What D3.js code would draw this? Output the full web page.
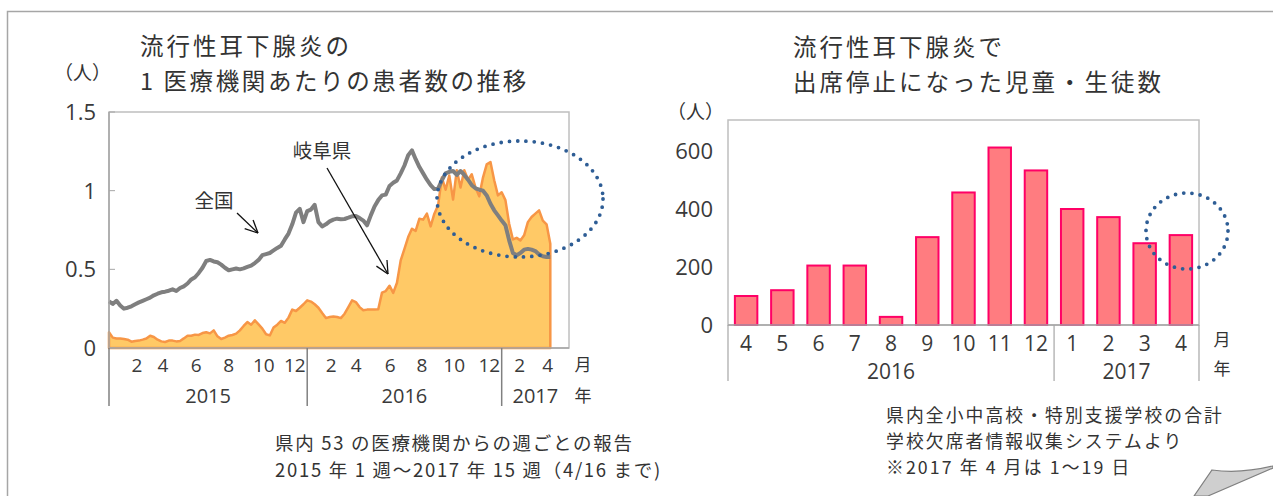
<!DOCTYPE html>
<html><head><meta charset="utf-8">
<script src="https://cdn.jsdelivr.net/npm/d3@7"></script>
<style>
html,body{margin:0;padding:0;background:#fff;}
svg{display:block;}
text{font-family:"Noto Sans CJK JP","Noto Sans",sans-serif;fill:#333;}
text.num{font-family:"Open Sans","Noto Sans",sans-serif;fill:#3a3a3a;}
</style></head>
<body>
<svg id="c" width="1273" height="496"></svg>
<script>
// ---------- DATA ----------
// Left chart: weekly values, 2015 week 1 .. 2017 week 15
const nationalValues = [
0.297,0.28,0.30,0.27,0.25,0.256,0.265,0.278,0.29,0.30,
0.31,0.32,0.335,0.345,0.354,0.358,0.364,0.373,0.362,0.381,
0.392,0.41,0.436,0.45,0.477,0.51,0.553,0.56,0.55,0.545,
0.53,0.51,0.494,0.50,0.505,0.50,0.506,0.515,0.523,0.54,
0.56,0.59,0.597,0.604,0.62,0.636,0.65,0.69,0.727,0.786,
0.86,0.885,0.80,0.87,0.88,0.91,0.80,0.773,0.786,0.805,
0.816,0.822,0.818,0.82,0.828,0.837,0.839,0.826,0.81,0.78,
0.843,0.90,0.94,0.97,0.975,1.03,1.05,1.065,1.11,1.16,
1.225,1.256,1.20,1.15,1.11,1.07,1.035,1.01,1.013,1.066,
1.11,1.12,1.125,1.10,1.125,1.10,1.07,1.035,1.015,1.006,
1.0,0.97,0.917,0.875,0.843,0.81,0.78,0.684,0.604,0.59,
0.604,0.625,0.63,0.625,0.616,0.595,0.583,0.578,0.578
];
const gifuValues = [
0.10,0.066,0.06,0.06,0.057,0.053,0.04,0.045,0.047,0.053,
0.06,0.078,0.07,0.053,0.042,0.038,0.047,0.047,0.042,0.045,
0.061,0.078,0.078,0.085,0.083,0.095,0.10,0.093,0.112,0.074,
0.057,0.066,0.078,0.083,0.091,0.112,0.14,0.165,0.148,0.176,
0.15,0.123,0.087,0.08,0.13,0.148,0.172,0.16,0.193,0.244,
0.235,0.256,0.278,0.303,0.295,0.278,0.256,0.222,0.19,0.197,
0.20,0.197,0.19,0.218,0.26,0.303,0.292,0.26,0.24,0.244,
0.244,0.244,0.246,0.352,0.362,0.396,0.35,0.415,0.557,0.63,
0.705,0.758,0.744,0.822,0.816,0.854,0.773,0.854,0.907,1.083,
1.006,1.097,0.943,1.13,1.02,1.13,1.07,1.104,1.02,0.964,
1.083,1.167,1.182,1.066,0.97,0.99,0.94,0.79,0.69,0.70,
0.684,0.716,0.80,0.833,0.854,0.875,0.81,0.786,0.663
];
const leftYTicks = [0, 0.5, 1, 1.5];
const leftYTickLabels = ["0", "0.5", "1", "1.5"];
const monthTickLabels = ["2","4","6","8","10","12","2","4","6","8","10","12","2","4"];
const monthTickWeeks = [7.5,14.4,23.3,32,41.4,49.7,59.4,66.1,75.2,83.7,92.3,101.7,109.8,117.3];
const yearLabels = ["2015","2016","2017"];
const yearStartWeeks = [0, 53, 105];

// Right chart: monthly students
const barMonths = ["4","5","6","7","8","9","10","11","12","1","2","3","4"];
const barValues = [100,120,205,205,28,303,457,612,533,400,372,282,310];
const barYears = ["2016","2017"];
const barYearStarts = [0, 9];
const rightYTicks = [0, 200, 400, 600];

// ---------- DRAW ----------
const svg = d3.select("#c");

svg.append("path").attr("d","M7.5,496 L7.5,11.5 L1273,11.5")
  .attr("fill","none").attr("stroke","#a6a6a6").attr("stroke-width",1.5);

// ===== LEFT CHART =====
const L = {x0:109, x1:569, y0:348, y1:112};
const xL = d3.scaleLinear().domain([0,123]).range([L.x0, L.x1]);
const yL = d3.scaleLinear().domain([0,1.5]).range([L.y0, L.y1]);

svg.append("rect").attr("x",L.x0).attr("y",L.y1).attr("width",L.x1-L.x0).attr("height",L.y0-L.y1)
  .attr("fill","none").attr("stroke","#bfbfbf").attr("stroke-width",1.5);

const area = d3.area().x((d,i)=>xL(i)).y0(yL(0)).y1(d=>yL(d));
svg.append("path").datum(gifuValues).attr("d",area)
  .attr("fill","#ffc966").attr("stroke","#f79646").attr("stroke-width",2.5).attr("stroke-linejoin","round");

const line = d3.line().x((d,i)=>xL(i)).y(d=>yL(d));
svg.append("path").datum(nationalValues).attr("d",line)
  .attr("fill","none").attr("stroke","#7f7f7f").attr("stroke-width",4).attr("stroke-linejoin","round");

svg.append("line").attr("x1",L.x0).attr("x2",L.x0).attr("y1",L.y1).attr("y2",L.y0)
  .attr("stroke","#a6a6a6").attr("stroke-width",1.5);
svg.append("line").attr("x1",L.x0).attr("x2",L.x1).attr("y1",L.y0).attr("y2",L.y0)
  .attr("stroke","#a6a6a6").attr("stroke-width",1.5);

leftYTicks.forEach((t,i)=>{
  svg.append("line").attr("x1",L.x0).attr("x2",L.x0+6).attr("y1",yL(t)).attr("y2",yL(t))
    .attr("stroke","#a6a6a6").attr("stroke-width",1);
  svg.append("text").attr("class","num").attr("x",96).attr("y",yL(t)).attr("dy","0.36em").attr("text-anchor","end")
    .attr("font-size",22).text(leftYTickLabels[i]);
});
svg.append("text").attr("x",54).attr("y",80).attr("font-size",19).text("（人）");

monthTickLabels.forEach((m,i)=>{
  svg.append("text").attr("class","num").attr("x",xL(monthTickWeeks[i])).attr("y",372).attr("text-anchor","middle")
    .attr("font-size",19).text(m);
});
yearStartWeeks.forEach(w=>{
  svg.append("line").attr("x1",xL(w)).attr("x2",xL(w)).attr("y1",L.y0).attr("y2",406)
    .attr("stroke","#808080").attr("stroke-width",1.5);
});
yearLabels.forEach((y,i)=>{
  const a = yearStartWeeks[i], b = (i+1<yearStartWeeks.length)?yearStartWeeks[i+1]:123;
  svg.append("text").attr("class","num").attr("x",xL((a+b)/2)).attr("y",403).attr("text-anchor","middle")
    .attr("font-size",20).text(y);
});
svg.append("text").attr("x",L.x1+14).attr("y",371).attr("text-anchor","middle").attr("font-size",17).text("月");
svg.append("text").attr("x",L.x1+14).attr("y",402).attr("text-anchor","middle").attr("font-size",17).text("年");

svg.append("text").attr("x",140).attr("y",55).attr("font-size",23.5).attr("letter-spacing",3).text("流行性耳下腺炎の");
svg.append("text").attr("x",140).attr("y",90).attr("font-size",23.5).attr("letter-spacing",2.6).text("1 医療機関あたりの患者数の推移");

svg.append("text").attr("x",322).attr("y",158).attr("text-anchor","middle").attr("font-size",19.5).text("岐阜県");
svg.append("text").attr("x",214).attr("y",208).attr("text-anchor","middle").attr("font-size",19.5).text("全国");

function arrow(x1,y1,x2,y2){
  svg.append("line").attr("x1",x1).attr("y1",y1).attr("x2",x2).attr("y2",y2)
    .attr("stroke","#111").attr("stroke-width",1.3);
  const ang = Math.atan2(y2-y1,x2-x1), len=14, spread=0.45;
  [ang+Math.PI-spread, ang+Math.PI+spread].forEach(a=>{
    svg.append("line").attr("x1",x2).attr("y1",y2)
      .attr("x2",x2+len*Math.cos(a)).attr("y2",y2+len*Math.sin(a))
      .attr("stroke","#111").attr("stroke-width",1.3);
  });
}
arrow(327,168,388,274);
arrow(237,213,258,233);

svg.append("ellipse").attr("cx",520).attr("cy",199).attr("rx",83).attr("ry",58)
  .attr("fill","none").attr("stroke","#2e5d95").attr("stroke-width",3.8)
  .attr("stroke-dasharray","0 8.3").attr("stroke-linecap","round");

svg.append("text").attr("x",275).attr("y",450).attr("font-size",18.5).attr("letter-spacing",1.7).text("県内 53 の医療機関からの週ごとの報告");
svg.append("text").attr("x",275).attr("y",477).attr("font-size",18.5).attr("letter-spacing",1.7).text("2015 年 1 週～2017 年 15 週（4/16 まで)");

// ===== RIGHT CHART =====
const R = {x0:728, x1:1199, y0:325, y1:120};
const xR = d3.scaleBand().domain(d3.range(barMonths.length)).range([R.x0,R.x1]).paddingInner(0.38).paddingOuter(0.19);
const yR = d3.scaleLinear().domain([0,700]).range([R.y0, R.y0 - 700*0.29]);

svg.append("rect").attr("x",R.x0).attr("y",R.y1).attr("width",R.x1-R.x0).attr("height",R.y0-R.y1)
  .attr("fill","none").attr("stroke","#bfbfbf").attr("stroke-width",1.5);

svg.selectAll("rect.bar").data(barValues).enter().append("rect").attr("class","bar")
  .attr("x",(d,i)=>xR(i)).attr("width",xR.bandwidth())
  .attr("y",d=>yR(d)).attr("height",d=>yR(0)-yR(d))
  .attr("fill","#ff7c80").attr("stroke","#ff0066").attr("stroke-width",2);

svg.append("line").attr("x1",R.x0).attr("x2",R.x1).attr("y1",R.y0).attr("y2",R.y0)
  .attr("stroke","#a6a6a6").attr("stroke-width",1.5);

rightYTicks.forEach(t=>{
  svg.append("text").attr("class","num").attr("x",713).attr("y",yR(t)).attr("dy","0.36em").attr("text-anchor","end")
    .attr("font-size",22).text(t);
});
svg.append("text").attr("x",667).attr("y",119).attr("font-size",19).text("（人）");

barMonths.forEach((m,i)=>{
  svg.append("text").attr("class","num").attr("x",xR(i)+xR.bandwidth()/2).attr("y",351).attr("text-anchor","middle")
    .attr("font-size",21).text(m);
});
const step = xR.step();
const sepX = barYearStarts.map(i=> R.x0 + i*step).concat([R.x1]);
sepX.forEach(x=>{
  svg.append("line").attr("x1",x).attr("x2",x).attr("y1",R.y0).attr("y2",381)
    .attr("stroke","#a6a6a6").attr("stroke-width",1.2);
});
barYears.forEach((y,i)=>{
  svg.append("text").attr("class","num").attr("x",(sepX[i]+sepX[i+1])/2).attr("y",379).attr("text-anchor","middle")
    .attr("font-size",21).text(y);
});
svg.append("text").attr("x",1222).attr("y",346).attr("text-anchor","middle").attr("font-size",17).text("月");
svg.append("text").attr("x",1222).attr("y",375).attr("text-anchor","middle").attr("font-size",17).text("年");

svg.append("text").attr("x",793).attr("y",56).attr("font-size",23.5).attr("letter-spacing",3).text("流行性耳下腺炎で");
svg.append("text").attr("x",793).attr("y",91).attr("font-size",23.5).attr("letter-spacing",3).text("出席停止になった児童・生徒数");

svg.append("ellipse").attr("cx",1187).attr("cy",231).attr("rx",41).attr("ry",38)
  .attr("fill","none").attr("stroke","#2e5d95").attr("stroke-width",3.8)
  .attr("stroke-dasharray","0 8.3").attr("stroke-linecap","round");

svg.append("text").attr("x",886).attr("y",422).attr("font-size",17.8).attr("letter-spacing",2.1).text("県内全小中高校・特別支援学校の合計");
svg.append("text").attr("x",886).attr("y",448).attr("font-size",17.8).attr("letter-spacing",2.1).text("学校欠席者情報収集システムより");
svg.append("text").attr("x",886).attr("y",474).attr("font-size",17.8).attr("letter-spacing",2.1).text("※2017 年 4 月は 1～19 日");

svg.append("path").attr("d","M1194,496 L1212,470 Q1240,474 1273,466 L1273,468 L1208,496 Z")
  .attr("fill","#cfcfcf").attr("stroke","#808080").attr("stroke-width",1.2);
</script>
</body></html>
